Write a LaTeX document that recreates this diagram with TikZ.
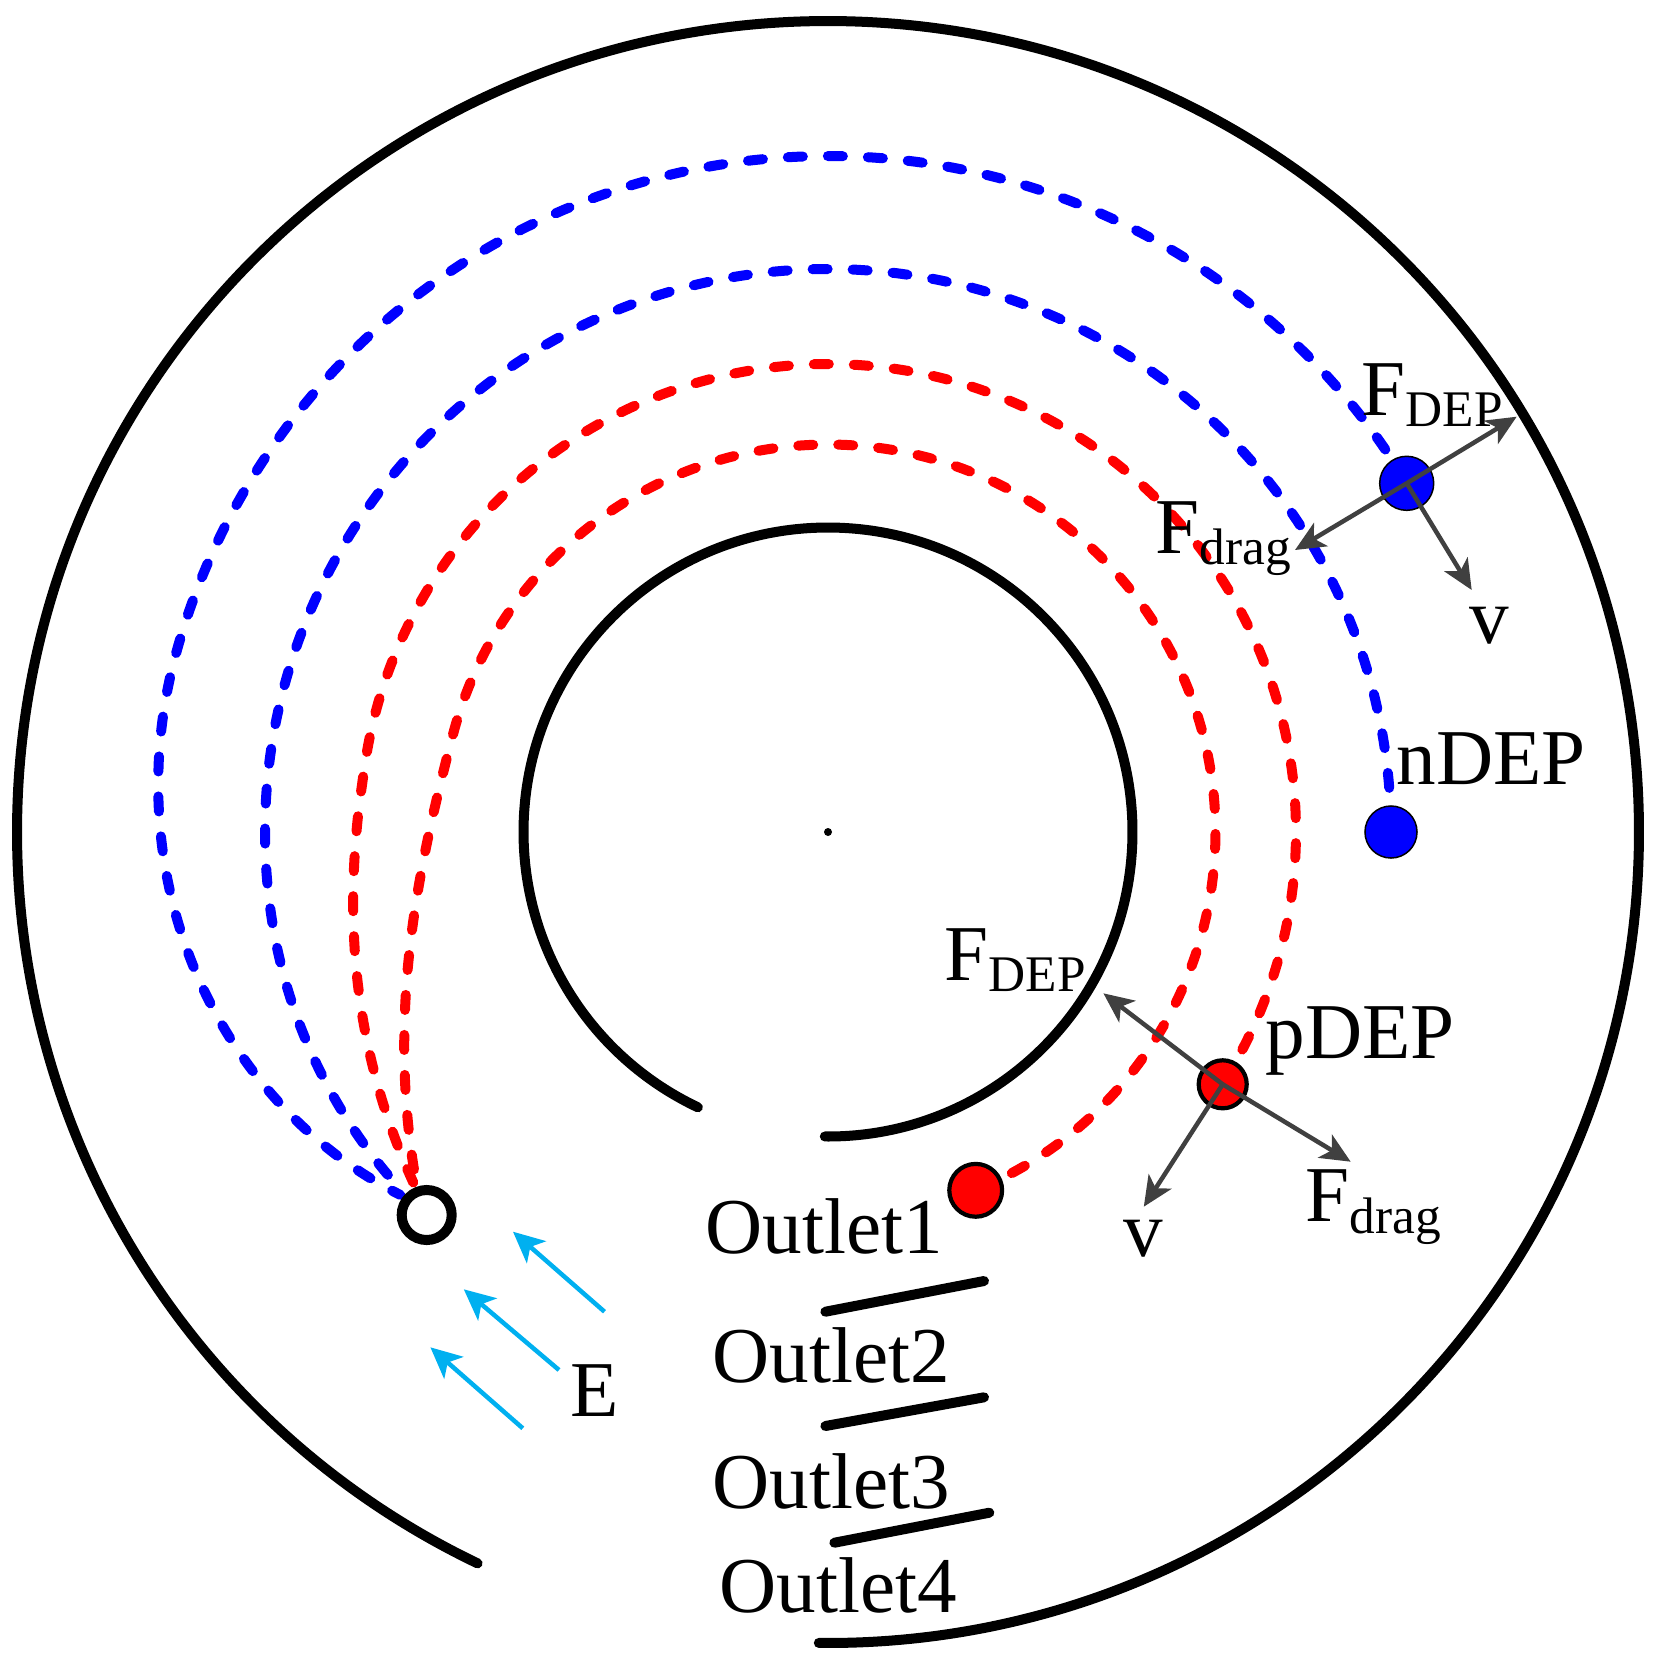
\documentclass[tikz,border=0pt]{standalone}
\usepackage{fontspec}
\setmainfont{Liberation Serif}
\usetikzlibrary{arrows.meta}
\newcommand{\subsz}{\fontsize{14.6}{16}\selectfont}
\definecolor{pblue}{RGB}{0,0,255}
\definecolor{pred}{RGB}{255,0,0}
\definecolor{ecol}{RGB}{0,176,240}
\definecolor{agray}{RGB}{64,64,64}
\begin{document}
\begin{tikzpicture}[x=0.01cm, y=-0.01cm,
  wall/.style={line width=0.1cm, line cap=round},
  traj/.style={line width=0.1cm, line cap=round, line join=round, dash pattern=on 0.15cm off 0.25cm},
  force/.style={agray, line width=0.045cm, -{Stealth[length=0.3cm,width=0.27cm,inset=0.08cm]}},
  field/.style={ecol, line width=0.045cm, -{Stealth[length=0.31cm,width=0.29cm,inset=0.08cm]}},
  lbl/.style={font=\fontsize{22.5}{27}\selectfont, inner sep=0, anchor=base west},
  partb/.style={circle, inner sep=0, fill=pblue, draw=black, line width=0.015cm},
  partr/.style={circle, inner sep=0, fill=pred, draw=black, line width=0.042cm},
  declare function={ramp(\t,\a,\b)=max(0.001,(\t-\a)/(\b-\a));}
]
\useasboundingbox (0,0) rectangle (1659,1666);
\coordinate (C) at (828,832);

% walls and trajectories (y-up polar frame centred on C)
\begin{scope}[shift={(828,832)}, x=0.01cm, y=0.01cm]
  \draw[wall] (-90.65:811) arc[start angle=-90.65, end angle=244.4, radius=811];
  \draw[wall] (-90.6:304.5) arc[start angle=-90.6, end angle=244.7, radius=304.5];
  \draw[traj, pblue] plot[domain=31.07:220.3, samples=320, variable=\t]
     (\t:{676-115*ramp(\t,165,220.3)^2});
  \draw[traj, pblue] plot[domain=4.5:220.4, samples=320, variable=\t]
     (\t:{563-6*ramp(\t,190,220.4)^2});
  \draw[traj, pred] plot[domain=-32.6:220.2, samples=320, variable=\t]
     (\t:{468+75*ramp(\t,172,220.2)^1.7});
  \draw[traj, pred] plot[domain=-67.6:220.7, samples=320, variable=\t]
     (\t:{387.5+155*ramp(\t,165,220.7)^2});
\end{scope}
\fill (C) circle[radius=4];

% inlet and particles
\node[circle, draw=black, line width=0.1cm, minimum size=0.5cm, inner sep=0] (inlet) at (426.7,1215) {};
\node[partb, minimum size=0.54cm] (pb1) at (1406.7,483.3) {};
\node[partb, minimum size=0.52cm] (pb2) at (1391,832) {};
\node[partr, minimum size=0.48cm] (pr1) at (1222.7,1084.3) {};
\node[partr, minimum size=0.528cm] (pr2) at (975.7,1190.3) {};

% force arrows
\coordinate (b1dep) at (1516.7,416.7);
\coordinate (b1drag) at (1295,550);
\coordinate (b1v) at (1471.7,590);
\coordinate (r1dep) at (1103.4,993.3);
\coordinate (r1drag) at (1350.7,1161.7);
\coordinate (r1v) at (1143.8,1206.7);
\draw[force] (pb1.center) -- (b1dep);
\draw[force] (pb1.center) -- (b1drag);
\draw[force] (pb1.center) -- (b1v);
\draw[force] (pr1.center) -- (r1dep);
\draw[force] (pr1.center) -- (r1drag);
\draw[force] (pr1.center) -- (r1v);

% electric field arrows
\coordinate (e1s) at (604.5,1311.7); \coordinate (e1t) at (513,1231.7);
\coordinate (e2s) at (559,1370);     \coordinate (e2t) at (463.8,1289.3);
\coordinate (e3s) at (522.8,1428.3); \coordinate (e3t) at (430.4,1347.3);
\draw[field] (e1s) -- (e1t);
\draw[field] (e2s) -- (e2t);
\draw[field] (e3s) -- (e3t);

% outlet separators
\coordinate (s1a) at (825.4,1311.7); \coordinate (s1b) at (984,1281);
\coordinate (s2a) at (825.4,1426);   \coordinate (s2b) at (984,1397.3);
\coordinate (s3a) at (834.4,1542.7); \coordinate (s3b) at (989.3,1512.7);
\draw[wall] (s1a) -- (s1b);
\draw[wall] (s2a) -- (s2b);
\draw[wall] (s3a) -- (s3b);

% labels
\node[lbl] (lFdep1) at (1361,415) {F\raisebox{-3.3pt}{\subsz DEP}};
\node[lbl] (lFdrag1) at (1155,553) {F\raisebox{-3.3pt}{\subsz drag}};
\node[lbl] (lv1) at (1469,643) {v};
\node[lbl] (lnDEP) at (1396,784) {nDEP};
\node[lbl] (lFdep2) at (944,980) {F\raisebox{-3.3pt}{\subsz DEP}};
\node[lbl] (lpDEP) at (1265,1058.6) {pDEP};
\node[lbl] (lFdrag2) at (1305,1221.7) {F\raisebox{-3.3pt}{\subsz drag}};
\node[lbl] (lv2) at (1123,1256.7) {v};
\node[lbl] (lE) at (570,1416.7) {E};
\node[lbl] (lO1) at (705,1253) {Outlet1};
\node[lbl] (lO2) at (712,1382) {Outlet2};
\node[lbl] (lO3) at (712,1508) {Outlet3};
\node[lbl] (lO4) at (719,1612) {Outlet4};
\end{tikzpicture}
\end{document}
